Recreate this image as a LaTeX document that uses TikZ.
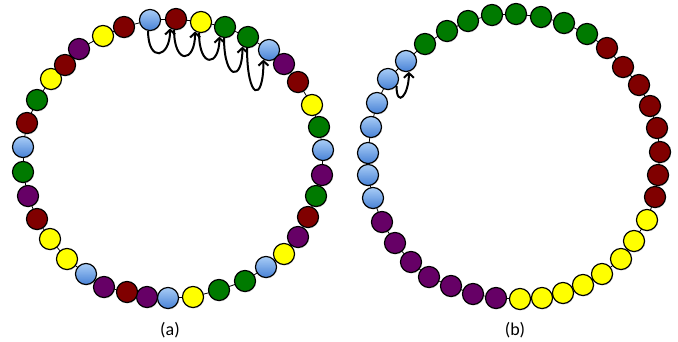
\documentclass[tikz,border=0pt]{standalone}
\usepackage{fontspec}
\setsansfont{Carlito}
\usetikzlibrary{arrows.meta,shadows,backgrounds}

\definecolor{beadtop}{RGB}{168,204,246}
\definecolor{beadbot}{RGB}{72,130,214}
\definecolor{beadred}{RGB}{128,0,0}
\definecolor{beadgreen}{RGB}{0,122,0}
\definecolor{beadpurple}{RGB}{102,0,102}
\definecolor{beadyellow}{RGB}{255,255,0}

\tikzset{
  bead/.style={circle, draw=black, line width=0.9pt, minimum size=15.8pt, inner sep=0pt,
    drop shadow={opacity=0.25, shadow xshift=0.5pt, shadow yshift=-0.8pt}},
  bblue/.style={top color=beadtop, bottom color=beadbot},
  bred/.style={fill=beadred},
  bgreen/.style={fill=beadgreen},
  bpurple/.style={fill=beadpurple},
  byellow/.style={fill=beadyellow},
  string/.style={line width=0.6pt},
  hop/.style={line width=1.5pt, -{Straight Barb[length=3.5pt,width=7.5pt]}},
  caption/.style={font=\sffamily\fontsize{13.5}{15}\selectfont}
}

\begin{document}
\begin{tikzpicture}[x=0.75pt, y=-0.75pt]
  \useasboundingbox (0,0) rectangle (678,342);

  % ring (a): mixed beads
  \foreach \x/\y/\c [count=\i] in {
      150/20/bblue, 176/19/bred, 201/22/byellow, 225/27/bgreen, 248/37/bgreen,
      269/50/bblue, 284/64/bpurple, 298/82/bred, 312/105/byellow, 319/127/bgreen,
      323/150/bblue, 322/175/bpurple, 316/196/bgreen, 308/217/bred, 298/237/bpurple,
      284/254/byellow, 266/267/bblue, 245/281/bgreen, 219/290/bgreen, 193/297/byellow,
      168/298/bblue, 147/297/bpurple, 127/292/bred, 104/287/bpurple, 86/274/bblue,
      67/259/byellow, 50/239/byellow, 37/219/bred, 28/196/bpurple, 23/172/bgreen,
      23/147/bblue, 27/123/bred, 37/100/bgreen, 51/79/byellow, 65/65/bred,
      79/49/bpurple, 103/36/byellow, 124/27/bred}
    \node[bead, \c] (a\i) at (\x,\y) {};

  % ring (b): sorted beads
  \foreach \x/\y/\c [count=\i] in {
      425/44/bgreen, 447/31/bgreen, 468/21/bgreen, 492/15/bgreen, 516/14/bgreen,
      541/17/bgreen, 564/23/bgreen, 587/34/bgreen, 607/48/bred, 623/67/bred,
      639/85/bred, 650/106/bred, 657/128/bred, 660/152/bred, 658/175/bred,
      655/197/bred, 647/220/byellow, 634/241/byellow, 621/259/byellow, 602/274/byellow,
      583/285/byellow, 563/293/byellow, 542/298/byellow, 520/299/byellow, 496/298/bpurple,
      473/294/bpurple, 451/286/bpurple, 429/277/bpurple, 411/262/bpurple, 395/243/bpurple,
      382/222/bpurple, 373/198/bblue, 368/175/bblue, 368/153/bblue, 371/127/bblue,
      377/103/bblue, 388/79/bblue, 406/61/bblue}
    \node[bead, \c] (b\i) at (\x,\y) {};

  % the strings
  \begin{scope}[on background layer]
    \foreach \i in {1,...,38} {
      \pgfmathtruncatemacro\j{mod(\i,38)+1}
      \draw[string] (a\i.center) -- (a\j.center);
      \draw[string] (b\i.center) -- (b\j.center);
    }
  \end{scope}

  % swaps
  \draw[hop] (a1.-100) .. controls +(0,32) and +(0,30) .. (a2.-122);
  \draw[hop] (a2.-100) .. controls +(0,35) and +(0,32) .. (a3.-122);
  \draw[hop] (a3.-100) .. controls +(0,36) and +(0,30) .. (a4.-120);
  \draw[hop] (a4.-95) .. controls +(0,42) and +(0,36) .. (a5.-120);
  \draw[hop] (a5.-95) .. controls +(0,52) and +(0,44) .. (a6.-120);
  \draw[hop] (b37.-40) .. controls +(0,22) and +(0,24) .. (b38.-75);

  \node[caption] (capa) at (170,330) {(a)};
  \node[caption] (capb) at (515,330) {(b)};
\end{tikzpicture}
\end{document}
